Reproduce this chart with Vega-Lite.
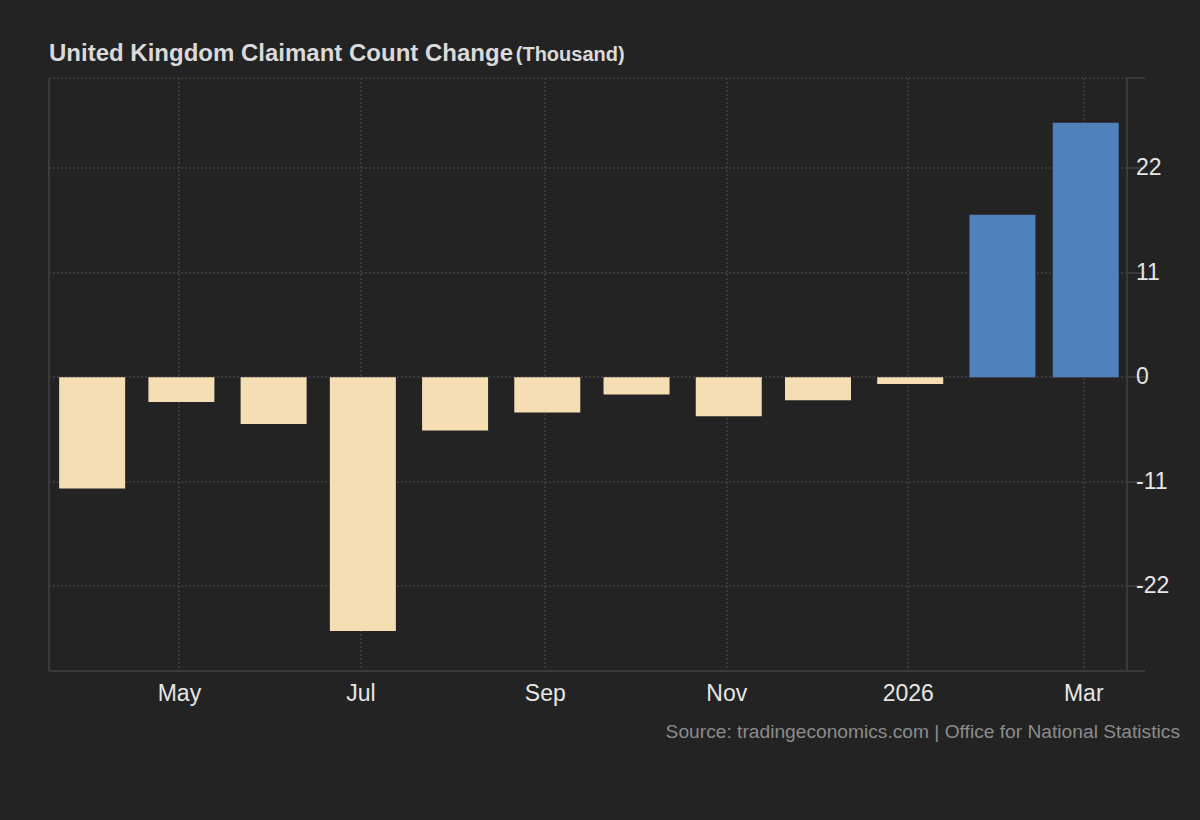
{
  "$schema": "https://vega.github.io/schema/vega-lite/v6.json",
  "width": 1078,
  "height": 593,
  "autosize": {"type": "none"},
  "padding": {"left": 49, "top": 78, "right": 73, "bottom": 149},
  "background": "#232323",
  "config": {
    "font": "Liberation Sans",
    "view": {"stroke": null},
    "title": {
      "anchor": "start",
      "frame": "group",
      "fontSize": 24,
      "fontWeight": "bold",
      "color": "#dadada",
      "subtitleFontSize": 20,
      "subtitleFontWeight": "bold",
      "subtitleColor": "#dadada",
      "subtitlePadding": -21,
      "offset": 11
    }
  },
  "title": {
    "text": "United Kingdom Claimant Count Change",
    "subtitle": "\u200b\u00a0\u00a0\u00a0\u00a0\u00a0\u00a0\u00a0\u00a0\u00a0\u00a0\u00a0\u00a0\u00a0\u00a0\u00a0\u00a0\u00a0\u00a0\u00a0\u00a0\u00a0\u00a0\u00a0\u00a0\u00a0\u00a0\u00a0\u00a0\u00a0\u00a0\u00a0\u00a0\u00a0\u00a0\u00a0\u00a0\u00a0\u00a0\u00a0\u00a0\u00a0\u00a0\u00a0\u00a0\u00a0\u00a0\u00a0\u00a0\u00a0\u00a0\u00a0\u00a0\u00a0\u00a0\u00a0\u00a0\u00a0\u00a0\u00a0\u00a0\u00a0\u00a0\u00a0\u00a0\u00a0\u00a0\u00a0\u00a0\u00a0\u00a0\u00a0\u00a0\u00a0\u00a0\u00a0\u00a0\u00a0\u00a0\u00a0\u00a0\u00a0\u00a0\u00a0\u00a0(Thousand)"
  },
  "data": {
    "values": [
      {"date": "2025-04-01", "value": -11.7},
      {"date": "2025-05-01", "value": -2.6},
      {"date": "2025-06-01", "value": -4.9},
      {"date": "2025-07-01", "value": -26.7},
      {"date": "2025-08-01", "value": -5.6},
      {"date": "2025-09-01", "value": -3.7},
      {"date": "2025-10-01", "value": -1.8},
      {"date": "2025-11-01", "value": -4.1},
      {"date": "2025-12-01", "value": -2.4},
      {"date": "2026-01-01", "value": -0.7},
      {"date": "2026-02-01", "value": 17.1},
      {"date": "2026-03-01", "value": 26.8}
    ]
  },
  "mark": {"type": "bar", "size": 66, "xOffset": 2},
  "encoding": {
    "x": {
      "field": "date",
      "type": "temporal",
      "scale": {"type": "utc", "padding": 0, "domain": [{"year": 2025, "month": 3, "date": 18, "hours": 4, "utc": true}, {"year": 2026, "month": 3, "date": 15, "hours": 13, "utc": true}]},
      "axis": {
        "values": [
          {"year": 2025, "month": 3, "date": 18, "hours": 4, "utc": true},
          {"year": 2025, "month": 5, "date": 1, "utc": true},
          {"year": 2025, "month": 7, "date": 1, "utc": true},
          {"year": 2025, "month": 9, "date": 1, "utc": true},
          {"year": 2025, "month": 11, "date": 1, "utc": true},
          {"year": 2026, "month": 1, "date": 1, "utc": true},
          {"year": 2026, "month": 3, "date": 1, "utc": true}
        ],
        "labelExpr": "datum.value < utc(2025, 3, 1) ? '' : (utcmonth(datum.value) == 0 ? utcFormat(datum.value, '%Y') : utcFormat(datum.value, '%b'))",
        "labelFontSize": 23,
        "labelColor": "#e6e6e6",
        "labelPadding": 12,
        "labelFlush": false,
        "labelOverlap": false,
        "ticks": false,
        "grid": true,
        "gridColor": "#3a3a3a",
        "gridWidth": 2,
        "gridDash": {"condition": {"test": "datum.value < utc(2025, 3, 1)", "value": []}, "value": [2, 2]},
        "domainColor": "#3a3a3a",
        "domainWidth": 2,
        "translate": 0,
        "title": "Source: tradingeconomics.com | Office for National Statistics",
        "titleFontSize": 19.2,
        "titleFontWeight": "normal",
        "titleColor": "#8c8c8c",
        "titleAnchor": "end",
        "titleAlign": "right",
        "titleBaseline": "alphabetic",
        "titleX": 1131,
        "titleY": 67
      }
    },
    "y": {
      "field": "value",
      "type": "quantitative",
      "scale": {"domain": [-30.9, 31.5], "nice": false, "zero": false},
      "axis": {
        "orient": "right",
        "values": [-30.9, -22, -11, 0, 11, 22, 31.5],
        "labelExpr": "abs(datum.value) > 30 ? '' : '' + datum.value",
        "labelFontSize": 23,
        "labelColor": "#e6e6e6",
        "labelPadding": -9,
        "labelAlign": "left",
        "labelBaseline": "middle",
        "tickSize": 18,
        "tickColor": "#3a3a3a",
        "tickWidth": 2,
        "grid": true,
        "gridColor": "#3a3a3a",
        "gridWidth": 2,
        "gridDash": [2, 2],
        "domainColor": "#3a3a3a",
        "domainWidth": 2,
        "translate": 0,
        "title": null
      }
    },
    "color": {
      "condition": {"test": "datum.value > 0", "value": "#4f81bd"},
      "value": "#f5deb3"
    }
  }
}
